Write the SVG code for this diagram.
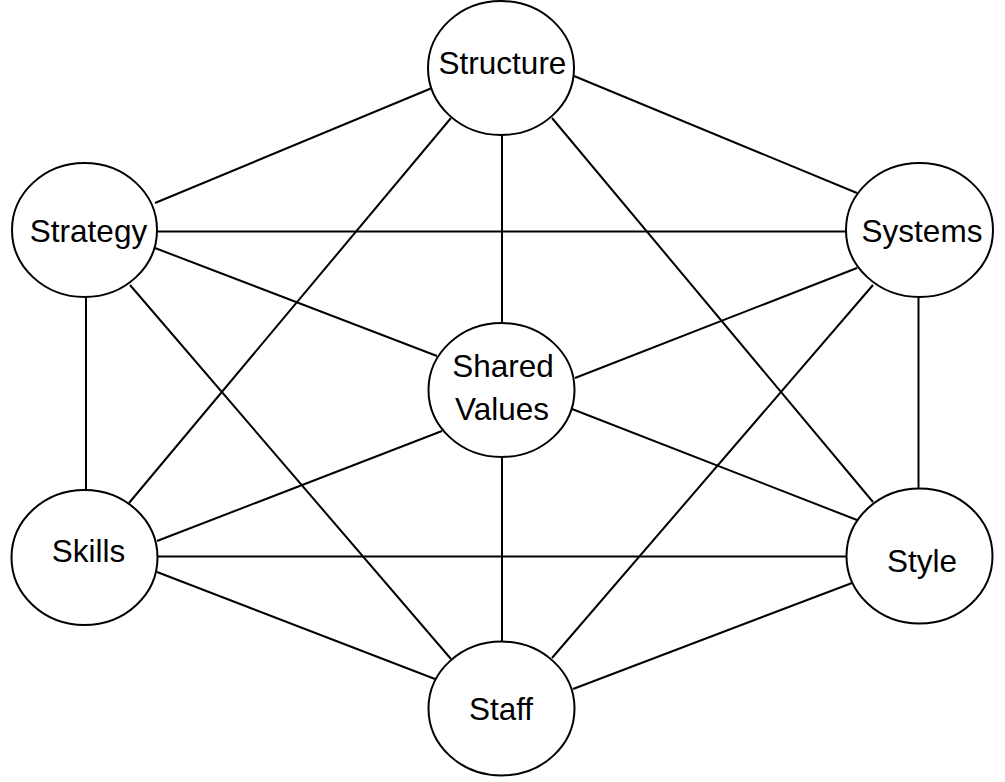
<svg xmlns="http://www.w3.org/2000/svg" width="1005" height="782" viewBox="0 0 1005 782">
<style>
.bg{fill:#fff}
.c line{stroke:#000;stroke-width:2;fill:none}
.n ellipse{fill:#fff;stroke:#000;stroke-width:2}
.n text{font-family:"Liberation Sans",Arial,sans-serif;font-size:31.5px;fill:#000;text-anchor:middle}
</style>
<rect class="bg" x="0" y="0" width="1005" height="782"/>
<g id="connectors" class="c">
<line x1="432" y1="88" x2="155" y2="203"/>
<line x1="574" y1="76" x2="857" y2="193"/>
<line x1="502" y1="135" x2="502" y2="323"/>
<line x1="451" y1="118" x2="129" y2="503"/>
<line x1="552" y1="118" x2="873" y2="502"/>
<line x1="157" y1="231.5" x2="846" y2="231.5"/>
<line x1="155" y1="248" x2="437" y2="356"/>
<line x1="86" y1="297" x2="86" y2="490"/>
<line x1="130" y1="285" x2="451" y2="659"/>
<line x1="857" y1="268" x2="575" y2="378"/>
<line x1="873" y1="285" x2="552" y2="658"/>
<line x1="918.5" y1="297" x2="918.5" y2="489"/>
<line x1="442" y1="431" x2="157" y2="541"/>
<line x1="572" y1="409" x2="857" y2="520"/>
<line x1="502" y1="457" x2="502" y2="642"/>
<line x1="157" y1="556.5" x2="846" y2="556.5"/>
<line x1="157" y1="572" x2="435" y2="679"/>
<line x1="573" y1="689" x2="852" y2="583"/>
</g>
<g id="structure" class="n"><ellipse cx="501" cy="68" rx="73" ry="67"/><text x="502.5" y="74">Structure</text></g>
<g id="strategy" class="n"><ellipse cx="84.5" cy="230" rx="72.5" ry="67"/><text x="88.5" y="241.5">Strategy</text></g>
<g id="systems" class="n"><ellipse cx="919.5" cy="230" rx="73.5" ry="67"/><text x="922" y="241.5">Systems</text></g>
<g id="shared-values" class="n"><ellipse cx="501.5" cy="390" rx="73" ry="67"/><text x="503" y="376.5">Shared</text><text x="502" y="420">Values</text></g>
<g id="skills" class="n"><ellipse cx="84.5" cy="557.5" rx="73" ry="67.5"/><text x="88.5" y="561.5">Skills</text></g>
<g id="style" class="n"><ellipse cx="919.5" cy="556" rx="73" ry="67.5"/><text x="922" y="571.5">Style</text></g>
<g id="staff" class="n"><ellipse cx="501.5" cy="708.5" rx="73" ry="67"/><text x="501" y="720">Staff</text></g>
</svg>
